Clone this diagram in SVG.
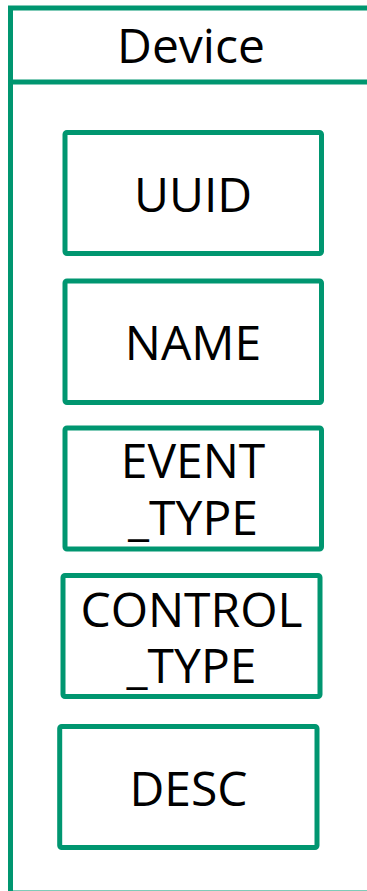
<svg xmlns="http://www.w3.org/2000/svg" width="367" height="891" viewBox="0 0 367 891">
<style>
.frame{fill:none;stroke:#009670;stroke-width:5}
.box{fill:#ffffff;stroke:#009670;stroke-width:5}
.t{font-family:"Open Sans","Noto Sans",sans-serif;font-size:48px;fill:#000000;text-anchor:middle}
</style>
<rect width="367" height="891" fill="#ffffff"/>
<g id="device">
<rect class="frame" x="10.5" y="8" width="380" height="885"/>
<line class="frame" x1="10.5" y1="82" x2="380" y2="82"/>
<text class="t" x="191" y="63">Device</text>
</g>
<g id="uuid">
<rect class="box" x="65" y="132.5" width="256.5" height="121" rx="2"/>
<text class="t" x="193" y="212">UUID</text>
</g>
<g id="name">
<rect class="box" x="65" y="281" width="256.5" height="121.5" rx="2"/>
<text class="t" x="193" y="360">NAME</text>
</g>
<g id="event_type">
<rect class="box" x="65" y="428" width="256.5" height="121" rx="2"/>
<text class="t" x="193" y="478">EVENT<tspan x="193" y="535">_TYPE</tspan></text>
</g>
<g id="control_type">
<rect class="box" x="63" y="575.5" width="257" height="121" rx="2"/>
<text class="t" x="191.5" y="627">CONTROL<tspan x="191.5" y="683">_TYPE</tspan></text>
</g>
<g id="desc">
<rect class="box" x="59.7" y="726.5" width="257.3" height="121" rx="2"/>
<text class="t" x="188.5" y="806">DESC</text>
</g>
<g id="connectors"></g>
</svg>
